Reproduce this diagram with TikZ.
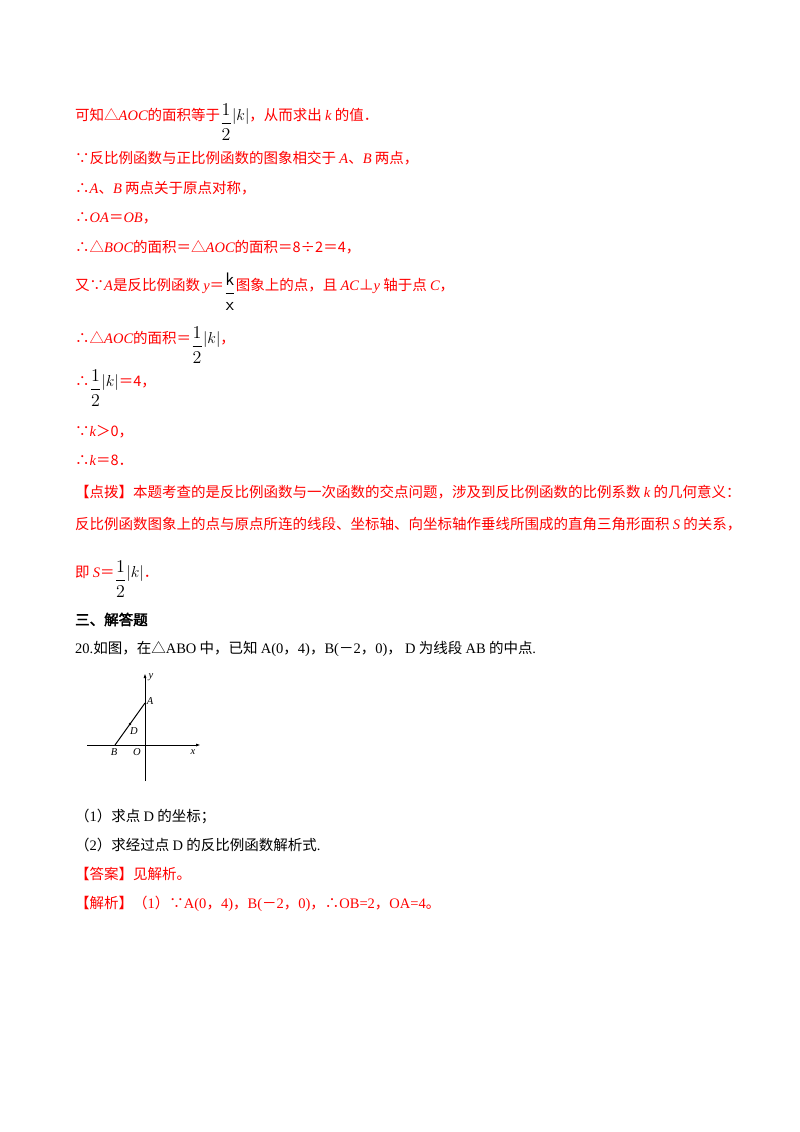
\documentclass[tikz,border=0pt]{standalone}
\usepackage{amsmath}
\usepackage{graphicx}
\usepackage{fontspec}
\usetikzlibrary{arrows.meta}
\setmainfont{Noto Sans CJK SC}
\newfontfamily\lat{Liberation Serif}
\newfontfamily\cjkb[FakeBold=2.5]{Noto Sans CJK SC}
\newcommand{\mi}[1]{{\lat\itshape #1}}
\newcommand{\hf}{\raisebox{-1.0ex}{\scalebox{1.25}{$\dfrac{1}{2}$}}\mbox{\scalebox{1.1}{$|k|$}}}
\definecolor{rd}{RGB}{255,0,0}
\begin{document}
\begin{tikzpicture}[x=1pt,y=-1pt,
  txt/.style={anchor=base west,inner sep=0pt,font=\fontsize{14.5}{17}\selectfont,text=rd},
  blk/.style={txt,text=black},
  lab/.style={inner sep=0pt,font=\fontsize{10.5}{11}\lat\itshape}]
\useasboundingbox[fill=white] (0,0) rectangle (800,1132);
\node[txt] (l1) at (75,120) {可知△\mi{AOC}的面积等于{\color{black}\hf}，从而求出 \mi{k} 的值．};
\node[txt] (l2) at (75,163) {∵反比例函数与正比例函数的图象相交于 \mi{A}、\mi{B} 两点，};
\node[txt] (l3) at (75,193) {∴\mi{A}、\mi{B} 两点关于原点对称，};
\node[txt] (l4) at (75,222) {∴\mi{OA}＝\mi{OB}，};
\node[txt] (l5) at (75,252) {∴△\mi{BOC}的面积＝△\mi{AOC}的面积＝8÷2＝4，};
\node[txt] (l6) at (75,290) {又∵\mi{A}是反比例函数 \mi{y}＝{\color{black}\raisebox{-1.0ex}{\scalebox{1.25}{$\dfrac{\mathsf{k}}{\mathsf{x}}$}}}图象上的点，且 \mi{AC}⊥\mi{y} 轴于点 \mi{C}，};
\node[txt] (l7) at (75,343) {∴△\mi{AOC}的面积＝{\color{black}\hf}，};
\node[txt] (l8) at (75,386) {∴{\color{black}\hf}＝4，};
\node[txt] (l9) at (75,436) {∵\mi{k}＞0，};
\node[txt] (l10) at (75,465) {∴\mi{k}＝8．};
\node[txt] (l11) at (75,497) {【点拨】本题考查的是反比例函数与一次函数的交点问题，涉及到反比例函数的比例系数 \mi{k} 的几何意义：};
\node[txt] (l12) at (75,529) {反比例函数图象上的点与原点所连的线段、坐标轴、向坐标轴作垂线所围成的直角三角形面积 \mi{S} 的关系，};
\node[txt] (l13) at (75,577) {即 \mi{S}＝{\color{black}\hf}．};
\node[blk] (l14) at (75,625) {\cjkb 三、解答题};
\node[blk] (l15) at (75,653) {{\lat 20.}如图，在△{\lat ABO} 中，已知 {\lat A(0}，{\lat 4)}，{\lat B(}－{\lat 2}，{\lat 0)}，\ {\lat D} 为线段 {\lat AB} 的中点{\lat .}};
\coordinate (yb) at (145,781); \coordinate (yt) at (145,673);
\coordinate (xl) at (87,745); \coordinate (xr) at (201,745);
\coordinate (A) at (145,703); \coordinate (B) at (115,745); \coordinate (D) at (130,724);
\draw[line width=1pt,-{Latex[length=5pt,width=3pt]}] (yb) -- (yt);
\draw[line width=1pt,-{Latex[length=5pt,width=3pt]}] (xl) -- (xr);
\draw[line width=1pt] (A) -- (B);
\fill (D) circle (1.3pt);
\node[lab] (ly) at (151,677) {y};
\node[lab] (la) at (150,701) {A};
\node[lab] (ld) at (134,731) {D};
\node[lab] (lb) at (114,752) {B};
\node[lab] (lo) at (137,752) {O};
\node[lab] (lx) at (193,752) {x};
\node[blk] (l16) at (75,821) {（{\lat 1}）求点 {\lat D} 的坐标；};
\node[blk] (l17) at (75,850) {（{\lat 2}）求经过点 {\lat D} 的反比例函数解析式{\lat .}};
\node[txt] (l18) at (75,879) {【答案】见解析。};
\node[txt] (l19) at (75,908) {【解析】（{\lat 1}）∵{\lat A(0}，{\lat 4)}，{\lat B(}－{\lat 2}，{\lat 0)}，∴{\lat OB=2}，{\lat OA=4}。};
\end{tikzpicture}
\end{document}
